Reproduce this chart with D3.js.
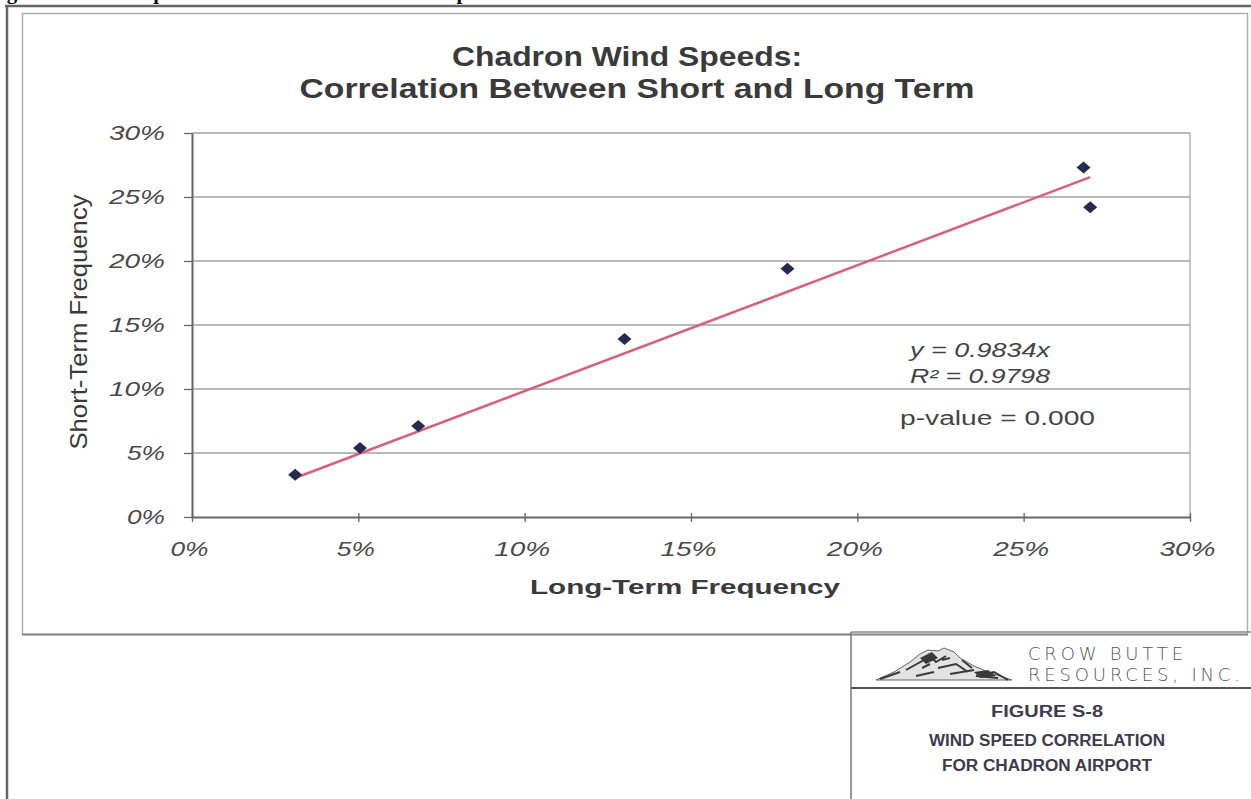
<!DOCTYPE html>
<html>
<head>
<meta charset="utf-8">
<script src="https://cdn.jsdelivr.net/npm/d3@7"></script>
<style>
  html, body { margin: 0; padding: 0; background: #fff; }
  svg { display: block; }
</style>
</head>
<body>
<svg id="chart" width="1251" height="799"></svg>
<script>
// Long-term vs short-term wind speed frequency (fractions)
const longTerm  = [0.031, 0.0505, 0.068, 0.130, 0.179, 0.268, 0.270];
const shortTerm = [0.033, 0.054, 0.071, 0.139, 0.194, 0.273, 0.242];
const slope = 0.9834;
const tickValues = [0, 0.05, 0.10, 0.15, 0.20, 0.25, 0.30];
const titleLines = ["Chadron Wind Speeds:", "Correlation Between Short and Long Term"];
const statLines = ["y = 0.9834x", "R\u00B2 = 0.9798", "p-value = 0.000"];
const captionLines = ["FIGURE S-8", "WIND SPEED CORRELATION", "FOR CHADRON AIRPORT"];
const companyLines = ["CROW BUTTE", "RESOURCES, INC."];

const svg = d3.select("#chart");
const pct = d3.format(".0%");
const sans = "Liberation Sans, Arial, sans-serif";
// width of a percent label, by character count
const labelWidth = s => s.length === 2 ? 38 : 56;

// Page frame and figure heading (heading sits above the page edge)
svg.append("text")
  .attr("x", -12).attr("y", -1)
  .attr("font-family", "Liberation Serif, serif")
  .attr("font-weight", "bold").attr("font-size", 21)
  .attr("fill", "#111")
  .text("Figure S-8 Wind Speed Correlation for Chadron Airport");
svg.append("line").attr("x1", 5).attr("x2", 1251).attr("y1", 6).attr("y2", 6)
  .attr("stroke", "#666").attr("stroke-width", 2.5);
svg.append("line").attr("x1", 7).attr("x2", 7).attr("y1", 5).attr("y2", 799)
  .attr("stroke", "#666").attr("stroke-width", 2.5);

// Chart area box
svg.append("rect").attr("x", 22.5).attr("y", 13.5).attr("width", 1225).attr("height", 621)
  .attr("fill", "none").attr("stroke", "#b0b0b0").attr("stroke-width", 1.5);
svg.append("line").attr("x1", 22).attr("x2", 1248).attr("y1", 634.5).attr("y2", 634.5)
  .attr("stroke", "#888").attr("stroke-width", 2);

// Plot scales
const x = d3.scaleLinear().domain([0, 0.30]).range([192, 1190]);
const y = d3.scaleLinear().domain([0, 0.30]).range([517, 133]);

// Horizontal gridlines
svg.append("g")
  .selectAll("line").data(tickValues.filter(d => d > 0)).join("line")
  .attr("x1", x(0)).attr("x2", x(0.30))
  .attr("y1", d => y(d)).attr("y2", d => y(d))
  .attr("stroke", "#a0a0a0").attr("stroke-width", 1.3);

// Right border of plot
svg.append("line").attr("x1", x(0.30)).attr("x2", x(0.30)).attr("y1", y(0.30)).attr("y2", y(0))
  .attr("stroke", "#aaa").attr("stroke-width", 1.3);

// Axes
const xAxis = svg.append("g").attr("transform", `translate(0,${y(0)})`)
  .call(d3.axisBottom(x).tickValues(tickValues).tickFormat(pct).tickSize(5).tickSizeOuter(0));
const yAxis = svg.append("g").attr("transform", `translate(${x(0)},0)`)
  .call(d3.axisLeft(y).tickValues(tickValues).tickFormat(pct).tickSize(8).tickSizeOuter(0));

[xAxis, yAxis].forEach(g => {
  g.select(".domain").attr("stroke", "#666").attr("stroke-width", 2);
  g.selectAll(".tick line").attr("stroke", "#666").attr("stroke-width", 1.3);
  g.selectAll(".tick text")
    .attr("font-family", sans)
    .attr("font-style", "italic").attr("font-size", 21).attr("fill", "#4a4a4a")
    .attr("lengthAdjust", "spacingAndGlyphs")
    .attr("textLength", d => labelWidth(pct(d)));
});
xAxis.selectAll(".tick line").attr("y1", -4);
xAxis.selectAll(".tick text").attr("y", 39).attr("dy", null).attr("x", -3);
yAxis.selectAll(".tick text").attr("x", -27);

// Axis titles
svg.append("text")
  .attr("x", 685).attr("y", 594).attr("text-anchor", "middle")
  .attr("font-family", sans)
  .attr("font-weight", "bold").attr("font-size", 21).attr("fill", "#3a3a3a")
  .attr("lengthAdjust", "spacingAndGlyphs").attr("textLength", 310)
  .text("Long-Term Frequency");
svg.append("text")
  .attr("transform", "translate(87,322) rotate(-90)").attr("text-anchor", "middle")
  .attr("font-family", sans)
  .attr("font-size", 24).attr("fill", "#3a3a3a")
  .attr("lengthAdjust", "spacingAndGlyphs").attr("textLength", 255)
  .text("Short-Term Frequency");

// Title
const titleSpec = [{ cx: 627, w: 350 }, { cx: 637, w: 675 }];
svg.append("g").selectAll("text").data(titleLines).join("text")
  .attr("x", (d, i) => titleSpec[i].cx).attr("y", (d, i) => 66 + i * 32)
  .attr("text-anchor", "middle")
  .attr("font-family", sans)
  .attr("font-weight", "bold").attr("font-size", 27).attr("fill", "#3a3a3a")
  .attr("lengthAdjust", "spacingAndGlyphs")
  .attr("textLength", (d, i) => titleSpec[i].w)
  .text(d => d);

// Trendline through the origin, spanning the data range
const xExt = d3.extent(longTerm);
svg.append("line")
  .attr("x1", x(xExt[0])).attr("y1", y(slope * xExt[0]))
  .attr("x2", x(xExt[1])).attr("y2", y(slope * xExt[1]))
  .attr("stroke", "#d8607a").attr("stroke-width", 2.5);

// Data points (diamonds)
const points = longTerm.map((v, i) => ({ lt: v, st: shortTerm[i] }));
svg.append("g").selectAll("path").data(points).join("path")
  .attr("transform", d => `translate(${x(d.lt)},${y(d.st)})`)
  .attr("d", "M0,-6L7,0L0,6L-7,0Z")
  .attr("fill", "#262a50");

// Regression statistics
const statSpec = [
  { x: 910, y: 357, w: 140, italic: true },
  { x: 910, y: 383, w: 140, italic: true },
  { x: 900, y: 425, w: 195, italic: false }
];
svg.append("g").selectAll("text").data(statLines).join("text")
  .attr("x", (d, i) => statSpec[i].x).attr("y", (d, i) => statSpec[i].y)
  .attr("font-family", sans).attr("font-size", 20).attr("fill", "#444")
  .attr("font-style", (d, i) => statSpec[i].italic ? "italic" : "normal")
  .attr("lengthAdjust", "spacingAndGlyphs")
  .attr("textLength", (d, i) => statSpec[i].w)
  .text(d => d);

// Title block
svg.append("line").attr("x1", 851).attr("x2", 1251).attr("y1", 632).attr("y2", 632)
  .attr("stroke", "#888").attr("stroke-width", 1.5);
svg.append("line").attr("x1", 851).attr("x2", 851).attr("y1", 632).attr("y2", 799)
  .attr("stroke", "#777").attr("stroke-width", 1.5);
svg.append("line").attr("x1", 851).attr("x2", 1251).attr("y1", 688).attr("y2", 688)
  .attr("stroke", "#555").attr("stroke-width", 2);

// Company mark: a sketched butte
const logo = svg.append("g").attr("transform", "translate(876,648)");
logo.append("path")
  .attr("d", "M0,32 L18,24 L34,14 L44,6 L52,2 L62,3 L68,0 L78,4 L84,10 L98,18 L112,24 L124,28 L136,32 Z")
  .attr("fill", "#e2e2e2").attr("stroke", "#666").attr("stroke-width", 1);
logo.append("path")
  .attr("d", "M4,31 L24,24 M30,22 L48,12 M52,6 L60,14 L70,8 M62,20 L80,16 L92,24 M74,26 L98,22 M100,28 L122,30 M40,28 L58,24 M86,12 L96,20 M108,26 L118,24 L132,32 M46,20 L54,16 M66,12 L74,10")
  .attr("fill", "none").attr("stroke", "#3a3a3a").attr("stroke-width", 2);
logo.append("path")
  .attr("d", "M98,24 L112,22 L120,28 L104,30 Z M44,10 L56,4 L62,10 L50,16 Z")
  .attr("fill", "#3a3a3a");

const companyW = [155, 212];
svg.append("g").selectAll("text").data(companyLines).join("text")
  .attr("x", 1028).attr("y", (d, i) => 660 + i * 21)
  .attr("font-family", "DejaVu Sans, sans-serif")
  .attr("font-weight", 200).attr("font-size", 18)
  .attr("fill", "#555")
  .attr("lengthAdjust", "spacing")
  .attr("textLength", (d, i) => companyW[i])
  .text(d => d);

const captionW = [112, 236, 210];
const captionY = [717, 746, 771];
svg.append("g").selectAll("text").data(captionLines).join("text")
  .attr("x", 1047).attr("y", (d, i) => captionY[i]).attr("text-anchor", "middle")
  .attr("font-family", sans)
  .attr("font-weight", "bold").attr("font-size", 16).attr("fill", "#3c3c4c")
  .attr("lengthAdjust", "spacingAndGlyphs")
  .attr("textLength", (d, i) => captionW[i])
  .text(d => d);
</script>
</body>
</html>
